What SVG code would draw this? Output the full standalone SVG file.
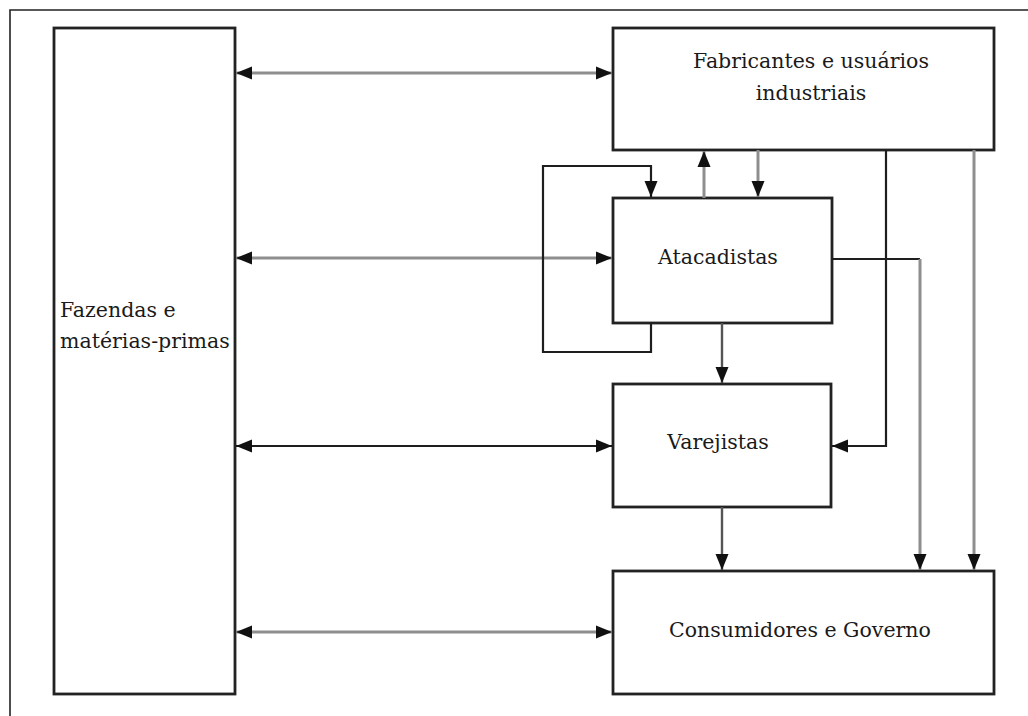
<svg xmlns="http://www.w3.org/2000/svg" width="1028" height="716" viewBox="0 0 1028 716">
<style>
.box{fill:#fff;stroke:#222;stroke-width:2.8}
.lbl{font-family:"DejaVu Serif","Liberation Serif",serif;font-size:20.5px;fill:#1a1a1a}
.g{fill:none;stroke:#8e8e8e;stroke-width:3}
.k{fill:none;stroke:#1e1e1e;stroke-width:2.2}
.m{fill:none;stroke:#555;stroke-width:2.4}
</style>
<defs>
<marker id="ah" markerUnits="userSpaceOnUse" markerWidth="17" markerHeight="14" refX="16" refY="7" orient="auto-start-reverse" viewBox="0 0 17 14">
<path d="M0,0.5 L16,7 L0,13.5 z" fill="#111"/>
</marker>
</defs>
<rect width="1028" height="716" fill="#fff"/>
<path d="M10,716 V10 H1028" fill="none" stroke="#222" stroke-width="1.6"/>
<g id="fazendas">
<rect class="box" x="54" y="28" width="181" height="666"/>
<text class="lbl" x="60" y="317">Fazendas e</text>
<text class="lbl" x="60" y="348">matérias-primas</text>
</g>
<g id="fabricantes">
<rect class="box" x="613" y="28" width="381" height="122"/>
<text class="lbl" x="811" y="68" text-anchor="middle">Fabricantes e usuários</text>
<text class="lbl" x="811" y="100" text-anchor="middle">industriais</text>
</g>
<g id="atacadistas">
<rect class="box" x="613" y="198" width="219" height="125"/>
<text class="lbl" x="718" y="264" text-anchor="middle">Atacadistas</text>
</g>
<g id="varejistas">
<rect class="box" x="613" y="384" width="218" height="123"/>
<text class="lbl" x="718" y="449" text-anchor="middle">Varejistas</text>
</g>
<g id="consumidores">
<rect class="box" x="613" y="571" width="381" height="123"/>
<text class="lbl" x="800" y="637" text-anchor="middle">Consumidores e Governo</text>
</g>
<g id="connectors">
<path class="g" d="M236,73 H612" marker-start="url(#ah)" marker-end="url(#ah)"/>
<path class="g" d="M236,258 H612" marker-start="url(#ah)" marker-end="url(#ah)"/>
<path class="k" d="M236,446 H612" marker-start="url(#ah)" marker-end="url(#ah)"/>
<path class="g" d="M236,632 H612" marker-start="url(#ah)" marker-end="url(#ah)"/>
<path class="k" d="M651,323 V352 H543 V166 H651 V197" marker-end="url(#ah)"/>
<path class="g" d="M704,198 V151" marker-end="url(#ah)"/>
<path class="g" d="M758,150 V197" marker-end="url(#ah)"/>
<path class="m" d="M722,323 V383" marker-end="url(#ah)"/>
<path class="m" d="M722,507 V570" marker-end="url(#ah)"/>
<path class="k" d="M886,150 V446 H832" marker-end="url(#ah)"/>
<path class="k" d="M832,259 H920"/>
<path class="g" d="M920,259 V570" marker-end="url(#ah)"/>
<path class="g" d="M974,150 V570" marker-end="url(#ah)"/>
</g>
</svg>
